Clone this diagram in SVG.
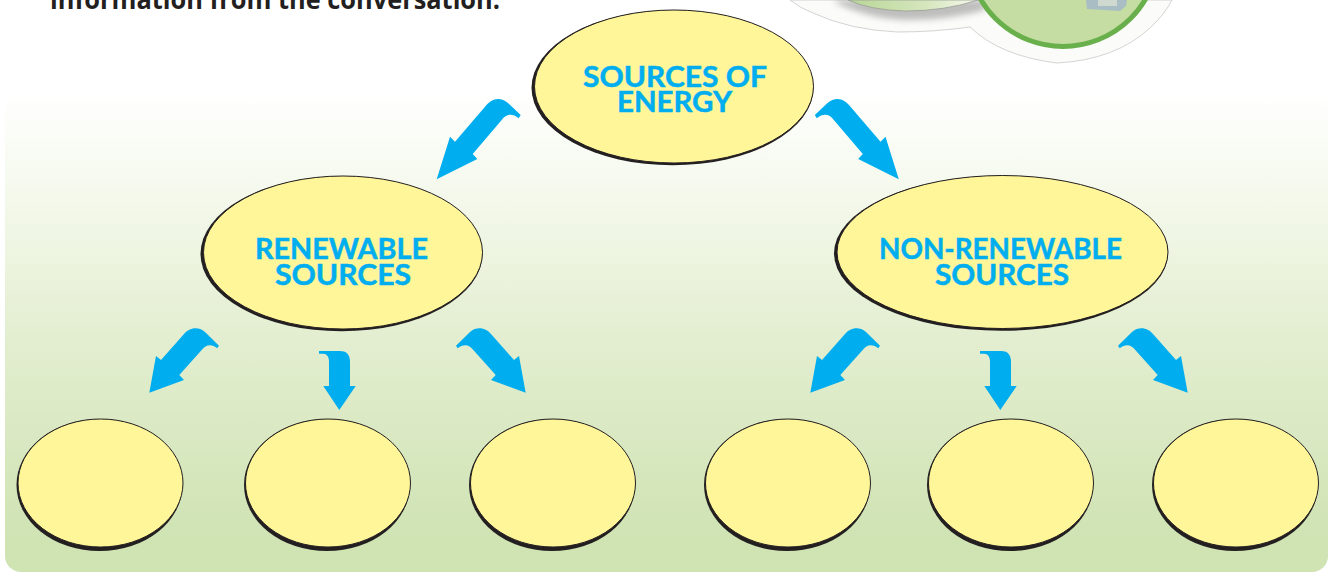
<svg xmlns="http://www.w3.org/2000/svg" width="1333" height="572" viewBox="0 0 1333 572">
<style>
.sh{fill:#231f20}
.fi{fill:#fff599;stroke:#231f20;stroke-width:1}
.lb{font-family:"Lato","Liberation Sans",sans-serif;font-weight:700;font-size:29px;fill:#00aeef;stroke:#00aeef;stroke-width:0.5;text-anchor:start}
.ar{fill:#00aeef}
</style>
<defs>
<linearGradient id="bg" gradientUnits="userSpaceOnUse" x1="0" y1="92" x2="0" y2="540">
<stop offset="0" stop-color="#ffffff"/>
<stop offset="0.25" stop-color="#f3f8ea"/>
<stop offset="0.55" stop-color="#e3eed0"/>
<stop offset="1" stop-color="#cfe3b3"/>
</linearGradient>
<linearGradient id="plate" x1="0" y1="0" x2="1" y2="0">
<stop offset="0" stop-color="#b9d696"/>
<stop offset="0.6" stop-color="#d5e6bd"/>
<stop offset="1" stop-color="#f7f9ee"/>
</linearGradient>
<filter id="blur" x="-20%" y="-50%" width="140%" height="200%"><feGaussianBlur stdDeviation="3"/></filter>
<path id="big" d="M436.7 179.3 L450 136.7 L455 141.7 L485 106.7 C490 100 499 95 508 103 L520.7 115 L518.7 118.3 C512 113 506 114 501.7 120 L472.7 154 L477.3 159 Z"/>
<path id="sm" d="M149.3 392.700 L156 356 L161 360 L184 334 C188 329 197 325 205 332 L219 345.700 L217.300 348.300 C212 344 206 344 201.700 350 L179.300 375 L184 380 Z"/>
<path id="mid" d="M319 351 L319 353.700 L323 353.700 C328 354 329 358 329 361.700 L329 386 L323.300 386 L339.300 410 L355.700 386 L350 386 L350 361.700 C350 354 346 351 340 351 Z"/>
</defs>

<rect id="panel" x="5" y="92" width="1323" height="480" rx="16" fill="url(#bg)"/>

<g id="heading">
<text x="50" y="9" font-family="'Open Sans','Liberation Sans',sans-serif" font-weight="700" font-size="26.5" fill="#231f20" textLength="450" lengthAdjust="spacingAndGlyphs">information from the conversation.</text>
</g>

<g id="picture">
<path d="M790 0 Q800 8 813 13 Q850 30 897 32 Q935 32 970 27 Q1000 56 1057 63 Q1115 60 1150 28 Q1165 14 1172 0 Z" fill="#fbfbfa" stroke="#c9c9c9" stroke-width="0.8"/>
<path d="M835 2 Q865 18 905 20 Q950 20 985 10 L985 0 L835 0 Z" fill="#8b8b8b" opacity="0.55" filter="url(#blur)"/>
<path d="M848 0 Q870 10 905 11 Q945 11 978 0 Z" fill="url(#plate)" stroke="#9a9f95" stroke-width="0.8"/>
<circle cx="1063" cy="-49" r="95.500" fill="#c5dda2" stroke="#69b04c" stroke-width="5"/>
<path d="M1086 0 L1087 9 L1120 11 L1126 6 L1127 0 Z" fill="#a9bec4"/>
<path d="M1098 0 L1098 6 L1117 6 L1117 0 Z" fill="#cfd9cf"/>
</g>

<g id="connectors">
<use href="#big" class="ar"/>
<use href="#big" class="ar" transform="translate(1335.500 0) scale(-1 1)"/>
<use href="#sm" class="ar"/>
<use href="#mid" class="ar"/>
<use href="#sm" class="ar" transform="translate(675 0) scale(-1 1)"/>
<use href="#sm" class="ar" transform="translate(661 0)"/>
<use href="#mid" class="ar" transform="translate(661 0)"/>
<use href="#sm" class="ar" transform="translate(1337 0) scale(-1 1)"/>
</g>

<g id="node-sources">
<ellipse class="sh" cx="672.500" cy="87.800" rx="141" ry="77.500"/>
<ellipse class="fi" cx="674" cy="86.500" rx="139.500" ry="76.500"/>
<text class="lb" x="583" y="87" textLength="184" lengthAdjust="spacingAndGlyphs">SOURCES OF</text>
<text class="lb" x="617" y="112" textLength="115" lengthAdjust="spacingAndGlyphs">ENERGY</text>
</g>
<g id="node-renewable">
<ellipse class="sh" cx="341.500" cy="253.800" rx="141" ry="77.500"/>
<ellipse class="fi" cx="343" cy="252.500" rx="139.500" ry="76.500"/>
<text class="lb" x="255" y="259" textLength="173" lengthAdjust="spacingAndGlyphs">RENEWABLE</text>
<text class="lb" x="275" y="285" textLength="136" lengthAdjust="spacingAndGlyphs">SOURCES</text>
</g>
<g id="node-non-renewable">
<ellipse class="sh" cx="1001" cy="253.300" rx="167" ry="77.500"/>
<ellipse class="fi" cx="1002.500" cy="252" rx="165.500" ry="76.500"/>
<text class="lb" x="879" y="258.500" textLength="243" lengthAdjust="spacingAndGlyphs">NON-RENEWABLE</text>
<text class="lb" x="935" y="285" textLength="134" lengthAdjust="spacingAndGlyphs">SOURCES</text>
</g>

<g id="node-r1"><ellipse class="sh" cx="99.500" cy="485" rx="83" ry="66"/><ellipse class="fi" cx="100.500" cy="483" rx="82.500" ry="64"/></g>
<g id="node-r2"><ellipse class="sh" cx="327" cy="485" rx="83" ry="66"/><ellipse class="fi" cx="328" cy="483" rx="82.500" ry="64"/></g>
<g id="node-r3"><ellipse class="sh" cx="552" cy="485" rx="83" ry="66"/><ellipse class="fi" cx="553" cy="483" rx="82.500" ry="64"/></g>
<g id="node-n1"><ellipse class="sh" cx="787" cy="485" rx="83" ry="66"/><ellipse class="fi" cx="788" cy="483" rx="82.500" ry="64"/></g>
<g id="node-n2"><ellipse class="sh" cx="1010" cy="485" rx="83" ry="66"/><ellipse class="fi" cx="1011" cy="483" rx="82.500" ry="64"/></g>
<g id="node-n3"><ellipse class="sh" cx="1235" cy="485" rx="83" ry="66"/><ellipse class="fi" cx="1236" cy="483" rx="82.500" ry="64"/></g>
</svg>
